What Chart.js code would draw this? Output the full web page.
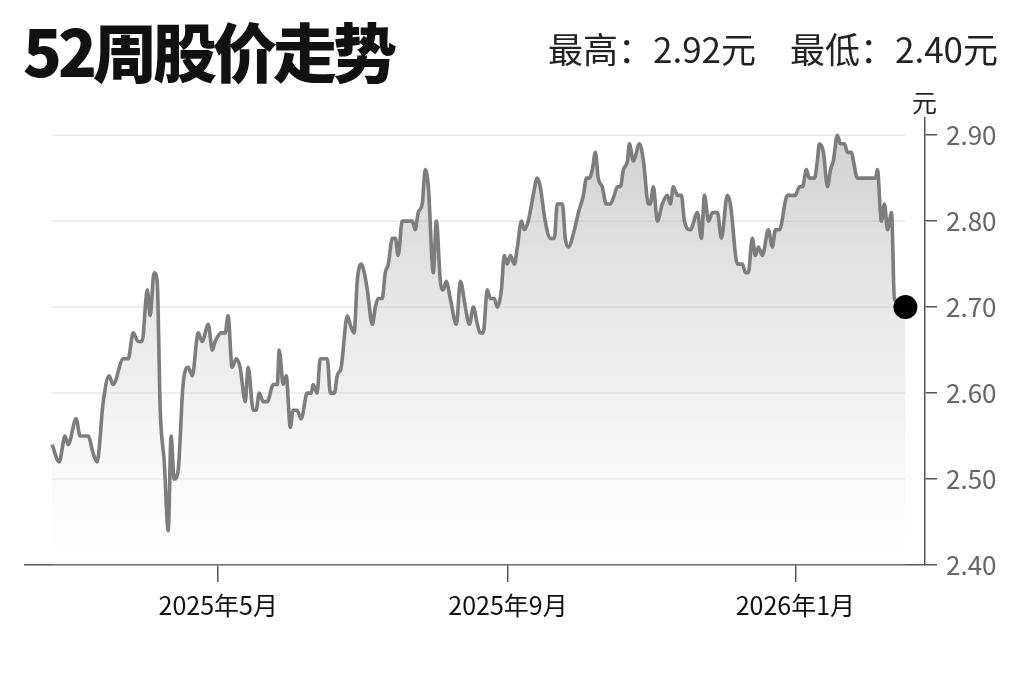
<!DOCTYPE html>
<html>
<head>
<meta charset="utf-8">
<script src="https://cdn.jsdelivr.net/npm/chart.js@4.4.0/dist/chart.umd.min.js"></script>
<style>
html,body{margin:0;padding:0;background:#fff;}
#wrap{position:relative;width:1023px;height:682px;overflow:hidden;font-family:"Noto Sans CJK SC","Noto Sans",sans-serif;}
#title{position:absolute;left:23px;top:17px;font-size:64px;font-weight:900;color:#111;line-height:64px;white-space:nowrap;letter-spacing:-4px;}
.stat{position:absolute;top:30px;font-size:35px;color:#222;line-height:35px;white-space:nowrap;}
#unit{position:absolute;left:912px;top:89px;font-size:25px;color:#222;line-height:25px;}
canvas{position:absolute;left:0;top:0;}
</style>
</head>
<body>
<div id="wrap">
  <canvas id="c" width="1023" height="682"></canvas>
  <div id="title">52周股价走势</div>
  <div class="stat" style="left:548px;">最高：2.92元</div>
  <div class="stat" style="left:790px;">最低：2.40元</div>
  <div id="unit">元</div>
</div>
<script>
// days since 2025-01-01
const dayOffsets = [
 49.5,52.5,55.0,56.3,59.7,61.4,64.8,66.9,68.6,71.2,73.7,75.4,79.7,81.8,83.9,86.0,87.7,89.9,91.1,92.8,
 94.1,95.4,97.1,98.8,100.0,101.3,103.0,105.1,107.3,109.0,111.5,113.2,115.8,117.5,118.7,121.3,123.0,124.2,125.9,127.6,
 129.3,131.5,132.7,134.9,136.1,137.4,139.1,140.8,143.4,145.1,145.9,147.6,148.9,150.6,151.8,153.5,155.2,157.8,159.5,160.3,
 162.0,163.3,166.3,167.6,169.3,170.5,172.2,174.8,176.0,177.7,179.0,180.7,182.0,183.3,185.4,186.7,187.9,189.6,190.9,192.2,
 193.9,195.2,196.4,198.1,202.4,203.6,204.9,206.6,207.9,209.2,211.3,212.6,214.3,215.5,216.8,218.5,221.1,222.8,224.9,226.6,
 228.3,230.0,231.2,232.5,234.2,235.5,237.2,238.5,240.2,241.4,242.7,244.0,245.7,247.0,248.7,249.9,251.6,253.7,255.4,256.7,
 258.8,261.0,262.7,263.9,266.1,267.3,268.6,271.2,272.9,275.0,276.3,277.5,278.8,280.1,281.3,283.0,284.7,286.4,288.1,289.4,
 290.7,292.0,293.7,294.5,296.2,298.8,300.5,302.6,303.4,304.7,306.4,308.5,310.6,311.9,313.2,314.9,316.6,317.9,320.4,323.4,
 325.1,326.4,328.1,329.8,331.9,333.6,336.1,337.4,340.4,342.5,343.8,345.0,346.7,348.0,349.3,351.0,353.5,355.2,356.5,358.2,
 361.6,363.7,365.0,366.7,368.0,369.7,370.9,373.1,374.3,375.2,376.9,378.6,379.9,381.1,382.8,384.1,385.8,387.1,388.8,389.6,
 391.3,399.0,399.8,401.5,402.8,404.1,405.8,407.0,411.7
];
const prices = [
 2.54,2.52,2.55,2.54,2.57,2.55,2.55,2.53,2.52,2.59,2.62,2.61,2.64,2.64,2.67,2.66,2.66,2.72,2.69,2.74,
 2.73,2.58,2.52,2.44,2.55,2.50,2.51,2.61,2.63,2.62,2.67,2.66,2.68,2.65,2.66,2.67,2.67,2.69,2.63,2.64,
 2.63,2.59,2.63,2.58,2.58,2.60,2.59,2.59,2.61,2.61,2.65,2.61,2.62,2.56,2.58,2.58,2.57,2.60,2.60,2.61,
 2.60,2.64,2.64,2.60,2.60,2.62,2.63,2.69,2.68,2.67,2.73,2.75,2.74,2.72,2.68,2.70,2.71,2.71,2.74,2.75,
 2.78,2.78,2.76,2.80,2.80,2.79,2.81,2.82,2.86,2.84,2.74,2.80,2.73,2.72,2.73,2.71,2.68,2.73,2.70,2.68,
 2.70,2.68,2.67,2.67,2.72,2.71,2.71,2.70,2.72,2.76,2.75,2.76,2.75,2.77,2.80,2.79,2.80,2.83,2.85,2.84,
 2.80,2.78,2.78,2.82,2.82,2.78,2.77,2.79,2.81,2.83,2.85,2.85,2.86,2.88,2.85,2.84,2.82,2.82,2.83,2.84,
 2.84,2.86,2.87,2.89,2.87,2.89,2.87,2.82,2.82,2.84,2.80,2.82,2.83,2.82,2.84,2.83,2.83,2.80,2.79,2.81,
 2.78,2.83,2.80,2.81,2.81,2.78,2.83,2.82,2.75,2.75,2.74,2.74,2.78,2.76,2.77,2.76,2.79,2.77,2.79,2.79,
 2.83,2.83,2.83,2.84,2.84,2.86,2.85,2.85,2.87,2.89,2.88,2.84,2.86,2.87,2.90,2.89,2.89,2.88,2.88,2.87,
 2.85,2.85,2.86,2.80,2.82,2.79,2.81,2.71,2.70
];
const yTicks = [2.40, 2.50, 2.60, 2.70, 2.80, 2.90];
const yMin = 2.40, yMax = 2.92;
const xTickDates = ['2025-05-01', '2025-09-01', '2026-01-01'];
const xTickLabels = ['2025年5月', '2025年9月', '2026年1月'];
const xMin = 38, xMax = 420;

const base = Date.parse('2025-01-01T00:00:00Z');
const xTickDays = xTickDates.map(d => (Date.parse(d + 'T00:00:00Z') - base) / 86400000);
const points = dayOffsets.map((d, i) => ({x: d, y: prices[i]}));
const FONT = '"Noto Sans CJK SC","Noto Sans",sans-serif';

const gridPlugin = {
  id: 'partialGrid',
  beforeDatasetsDraw(chart) {
    const {ctx, scales: {x, y}} = chart;
    const x0 = x.getPixelForValue(dayOffsets[0]);
    const x1 = x.getPixelForValue(dayOffsets[dayOffsets.length - 1]);
    ctx.save();
    ctx.strokeStyle = '#e8e8e8';
    ctx.lineWidth = 1.5;
    yTicks.slice(1).forEach(v => {
      const py = y.getPixelForValue(v);
      ctx.beginPath(); ctx.moveTo(x0, py); ctx.lineTo(x1, py); ctx.stroke();
    });
    ctx.restore();
  }
};

new Chart(document.getElementById('c').getContext('2d'), {
  type: 'line',
  data: {
    datasets: [{
      data: points,
      borderColor: '#7d7d7d',
      borderWidth: 3.6,
      cubicInterpolationMode: 'monotone',
      fill: 'start',
      backgroundColor: (c) => {
        const a = c.chart.chartArea;
        if (!a) return 'rgba(200,200,200,0.4)';
        const g = c.chart.ctx.createLinearGradient(0, a.top, 0, a.bottom);
        g.addColorStop(0, 'rgba(165,165,165,0.55)');
        g.addColorStop(0.6, 'rgba(210,210,210,0.35)');
        g.addColorStop(1, 'rgba(255,255,255,0.2)');
        return g;
      },
      pointRadius: (c) => c.dataIndex === prices.length - 1 ? 12 : 0,
      pointHoverRadius: 0,
      pointBackgroundColor: '#000',
      pointBorderWidth: 0,
      clip: false
    }]
  },
  options: {
    responsive: false,
    animation: false,
    layout: {padding: {top: 118, left: 25, right: 0, bottom: 0}},
    plugins: {legend: {display: false}, tooltip: {enabled: false}},
    scales: {
      x: {
        type: 'linear', min: xMin, max: xMax,
        afterBuildTicks: s => { s.ticks = xTickDays.map(v => ({value: v})); },
        afterFit: s => { s.height = 117; },
        grid: {drawOnChartArea: false, tickLength: 17, color: '#555', lineWidth: 1.5},
        border: {color: '#555', width: 1.5},
        ticks: {
          callback: (v, i) => xTickLabels[i],
          font: {family: FONT, size: 25}, color: '#111', padding: 8,
          maxRotation: 0, autoSkip: false
        }
      },
      y: {
        position: 'right', min: yMin, max: yMax,
        afterBuildTicks: s => { s.ticks = yTicks.map(v => ({value: v})); },
        afterFit: s => { s.width = 98; },
        grid: {drawOnChartArea: false, tickLength: 12, color: '#555', lineWidth: 1.5},
        border: {color: '#555', width: 1.5},
        ticks: {
          callback: v => Number(v).toFixed(2),
          font: {family: FONT, size: 26}, color: '#666', padding: 9
        }
      }
    }
  },
  plugins: [gridPlugin]
});
</script>
</body>
</html>
